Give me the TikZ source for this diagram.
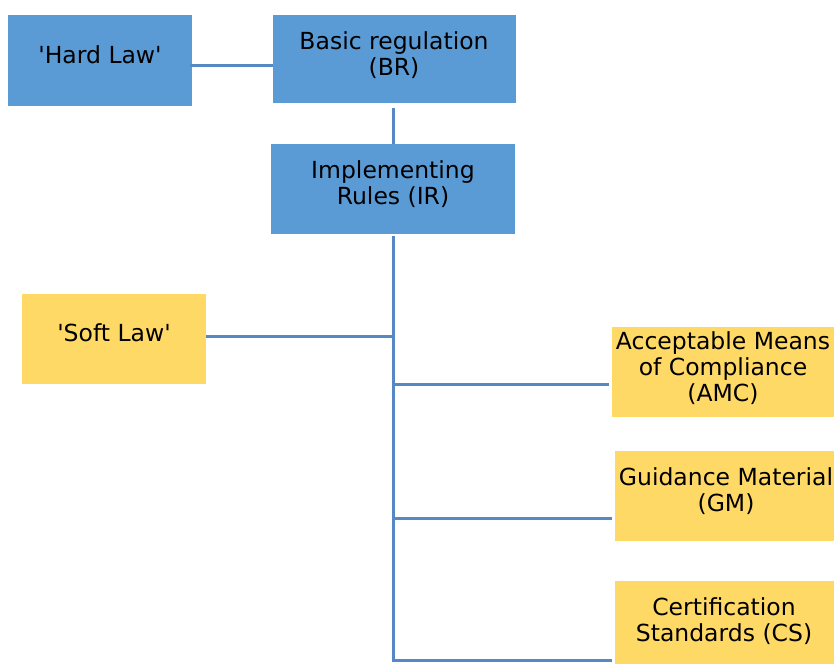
\documentclass[tikz,border=0pt]{standalone}
\usepackage{fontspec}
\setmainfont{DejaVu Sans}
\definecolor{boxblue}{RGB}{91,155,213}
\definecolor{boxyellow}{RGB}{255,217,102}
\definecolor{lineblue}{RGB}{84,137,196}
\begin{document}
\begin{tikzpicture}[x=1pt,y=-1pt,
  box/.style={rectangle, inner sep=0pt, draw=none},
  bluebox/.style={box, fill=boxblue},
  yellowbox/.style={box, fill=boxyellow},
  txt/.style={align=center, inner sep=0pt, font=\fontsize{23.5}{26}\selectfont},
  conn/.style={draw=lineblue, line width=3pt}]
\useasboundingbox (0,0) rectangle (834,664);
% boxes
\node[bluebox, minimum width=184pt, minimum height=91pt] (hard) at (100,60.5) {};
\node[bluebox, minimum width=243pt, minimum height=88pt] (br) at (394.5,59) {};
\node[bluebox, minimum width=244pt, minimum height=90pt] (ir) at (393,189) {};
\node[yellowbox, minimum width=184pt, minimum height=90pt] (soft) at (114,339) {};
\node[yellowbox, minimum width=222pt, minimum height=90pt] (amc) at (723,372) {};
\node[yellowbox, minimum width=219pt, minimum height=90pt] (gm) at (724.5,496) {};
\node[yellowbox, minimum width=219pt, minimum height=83pt] (cs) at (724.5,622.5) {};
% texts
\node[txt] (thard) at (100,55) {\textquotesingle Hard Law\textquotesingle};
\node[txt] (tbr) at (394,55.5) {Basic regulation\\(BR)};
\node[txt] (tir) at (393,184) {Implementing\\Rules (IR)};
\node[txt] (tsoft) at (114,333) {\textquotesingle Soft Law\textquotesingle};
\node[txt] (tamc) at (723,368) {Acceptable Means\\of Compliance\\(AMC)};
\node[txt] (tgm) at (726,491.5) {Guidance Material\\(GM)};
\node[txt] (tcs) at (724,621) {Certification\\Standards (CS)};
% connectors
\coordinate (bot) at (393,660);
\draw[conn] ([xshift=-2pt]hard.east |- 0,65) -- (br.west |- 0,65);
\draw[conn, shorten <=5pt] (ir.north |- br.south) -- (ir.north);
\draw[conn, shorten <=3pt, line cap=rect] (ir.south) -- (bot);
\draw[conn] (soft.east |- 0,336) -- (bot |- 0,336);
\draw[conn] (bot |- 0,384) -- ([xshift=-3pt]amc.west |- 0,384);
\draw[conn] (bot |- 0,518) -- ([xshift=-3pt]gm.west |- 0,518);
\draw[conn] (bot) -- ([xshift=-3pt]cs.west |- bot);
\end{tikzpicture}
\end{document}
